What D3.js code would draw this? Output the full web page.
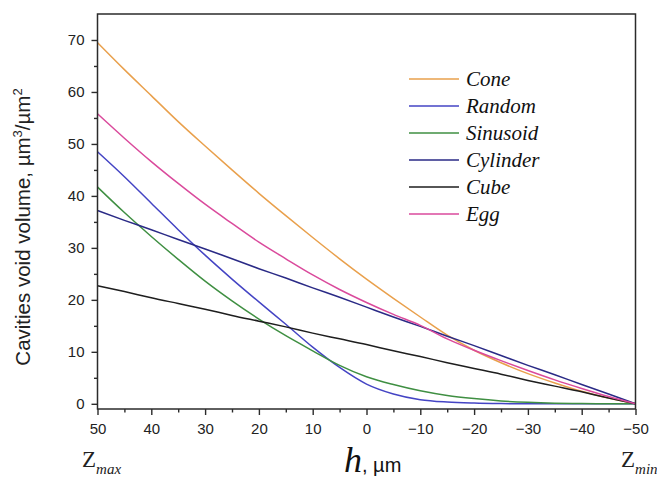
<!DOCTYPE html>
<html>
<head>
<meta charset="utf-8">
<script src="https://cdn.jsdelivr.net/npm/d3@7"></script>
<style>
  html, body { margin: 0; padding: 0; background: #fff; }
  svg { display: block; }
</style>
</head>
<body>
<svg id="chart" width="657" height="484"></svg>
<script>
// Height h (µm), from Zmax (50) down to Zmin (-50)
const heights = [50, 45, 40, 35, 30, 25, 20, 15, 10, 5, 0, -5, -10, -15, -20, -25, -30, -35, -40, -45, -50];

// Cavities void volume (µm³/µm²) for each surface model
const cone     = [69.5, 64.3, 59.3, 54.3, 49.6, 45.0, 40.5, 36.2, 32.0, 27.9, 24.0, 20.3, 16.7, 13.2, 10.3, 7.9, 5.8, 4.0, 2.4, 1.1, 0];
const random   = [48.5, 43.7, 38.6, 33.5, 28.6, 24.0, 19.6, 15.3, 10.9, 7.0, 3.8, 1.9, 0.8, 0.35, 0.15, 0.05, 0, 0, 0, 0, 0];
const sinusoid = [41.7, 36.8, 32.2, 27.8, 23.6, 19.8, 16.3, 13.1, 10.2, 7.4, 5.2, 3.7, 2.5, 1.6, 1.0, 0.55, 0.28, 0.12, 0.05, 0.02, 0];
const cylinder = [37.2, 35.3, 33.5, 31.6, 29.8, 27.9, 26.0, 24.2, 22.3, 20.5, 18.6, 16.7, 14.9, 13.0, 11.2, 9.3, 7.4, 5.6, 3.7, 1.9, 0];
const cube     = [22.7, 21.6, 20.4, 19.3, 18.2, 17.0, 15.9, 14.8, 13.6, 12.5, 11.4, 10.2, 9.1, 7.9, 6.8, 5.7, 4.5, 3.4, 2.3, 1.1, 0];
const egg      = [55.8, 51.1, 46.6, 42.4, 38.4, 34.7, 31.1, 27.9, 24.8, 22.0, 19.5, 17.2, 15.1, 12.5, 10.3, 8.3, 6.4, 4.6, 2.95, 1.4, 0];

const seriesNames  = ["Cone", "Random", "Sinusoid", "Cylinder", "Cube", "Egg"];
const seriesValues = [cone, random, sinusoid, cylinder, cube, egg];
const seriesColors = ["#E9A04C", "#4444C4", "#3F8F42", "#2A2A86", "#1E1E1E", "#DA4A9C"];

const xTicks = [50, 40, 30, 20, 10, 0, -10, -20, -30, -40, -50];
const xMinorTicks = [45, 35, 25, 15, 5, -5, -15, -25, -35, -45];
const yTicks = [0, 10, 20, 30, 40, 50, 60, 70];
const yMinorTicks = [5, 15, 25, 35, 45, 55, 65];

const svg = d3.select("#chart");
const plot = { left: 97.5, right: 635.5, top: 14, bottom: 409 };

const x = d3.scaleLinear().domain([50, -50]).range([plot.left, plot.right]);
const y = d3.scaleLinear().domain([-1, 75]).range([plot.bottom, plot.top]);

const axisColor = "#2b2b2b";
const sans = "'Liberation Sans', Arial, sans-serif";
const serif = "'Liberation Serif', 'Times New Roman', serif";

// Curves
const line = d3.line()
  .x(d => x(d[0]))
  .y(d => y(d[1]))
  .curve(d3.curveMonotoneX);

const curves = svg.append("g");
seriesValues.forEach((vals, i) => {
  curves.append("path")
    .datum(heights.map((h, j) => [h, vals[j]]))
    .attr("d", line)
    .attr("fill", "none")
    .attr("stroke", seriesColors[i])
    .attr("stroke-width", 1.5);
});

// Frame
svg.append("rect")
  .attr("x", plot.left).attr("y", plot.top)
  .attr("width", plot.right - plot.left).attr("height", plot.bottom - plot.top)
  .attr("fill", "none").attr("stroke", axisColor).attr("stroke-width", 1.5);

// Bottom axis: major and minor ticks pointing outward
svg.append("g")
  .attr("transform", `translate(0,${plot.bottom})`)
  .call(d3.axisBottom(x).tickValues(xTicks).tickSize(6).tickSizeOuter(0).tickPadding(8).tickFormat(d3.format("d")));
svg.append("g")
  .attr("transform", `translate(0,${plot.bottom})`)
  .call(d3.axisBottom(x).tickValues(xMinorTicks).tickSize(3.5).tickSizeOuter(0).tickFormat(""));

// Left axis
svg.append("g")
  .attr("transform", `translate(${plot.left},0)`)
  .call(d3.axisLeft(y).tickValues(yTicks).tickSize(6).tickSizeOuter(0).tickPadding(7).tickFormat(d3.format("d")));
svg.append("g")
  .attr("transform", `translate(${plot.left},0)`)
  .call(d3.axisLeft(y).tickValues(yMinorTicks).tickSize(3.5).tickSizeOuter(0).tickFormat(""));

svg.selectAll(".domain").remove();
svg.selectAll(".tick line").attr("stroke", axisColor).attr("stroke-width", 1.4);
svg.selectAll(".tick text")
  .attr("fill", "#222")
  .style("font-family", sans)
  .style("font-size", "15px");

// Y axis title
const yTitle = svg.append("text")
  .attr("transform", "translate(30,227) rotate(-90)")
  .attr("text-anchor", "middle")
  .attr("fill", "#222")
  .style("font-family", sans)
  .style("font-size", "20.5px");
yTitle.append("tspan").text("Cavities void volume, µm");
yTitle.append("tspan").attr("dy", -8).style("font-size", "13px").text("3");
yTitle.append("tspan").attr("dy", 8).text("/µm");
yTitle.append("tspan").attr("dy", -8).style("font-size", "13px").text("2");

// Legend
const legend = svg.append("g");
seriesNames.forEach((name, i) => {
  const yy = 79 + i * 27;
  legend.append("line")
    .attr("x1", 409).attr("x2", 459)
    .attr("y1", yy).attr("y2", yy)
    .attr("stroke", seriesColors[i]).attr("stroke-width", 1.6);
  legend.append("text")
    .attr("x", 466).attr("y", yy + 7)
    .attr("fill", "#111")
    .style("font-family", serif)
    .style("font-style", "italic")
    .style("font-size", "21px")
    .text(name);
});

// Bottom labels: Zmax, h, µm, Zmin
function zLabel(xPos, sub) {
  const t = svg.append("text")
    .attr("x", xPos).attr("y", 467)
    .attr("fill", "#222")
    .style("font-family", serif)
    .style("font-size", "23px");
  t.append("tspan").text("Z");
  t.append("tspan").attr("dy", 7).style("font-style", "italic").style("font-size", "15px").text(sub);
}
zLabel(82, "max");
zLabel(621, "min");

const hLabel = svg.append("text")
  .attr("x", 344).attr("y", 472)
  .attr("fill", "#111");
hLabel.append("tspan")
  .style("font-family", serif).style("font-style", "italic").style("font-size", "36px")
  .text("h");
hLabel.append("tspan")
  .style("font-family", sans).style("font-size", "20px")
  .text(", µm");
</script>
</body>
</html>
